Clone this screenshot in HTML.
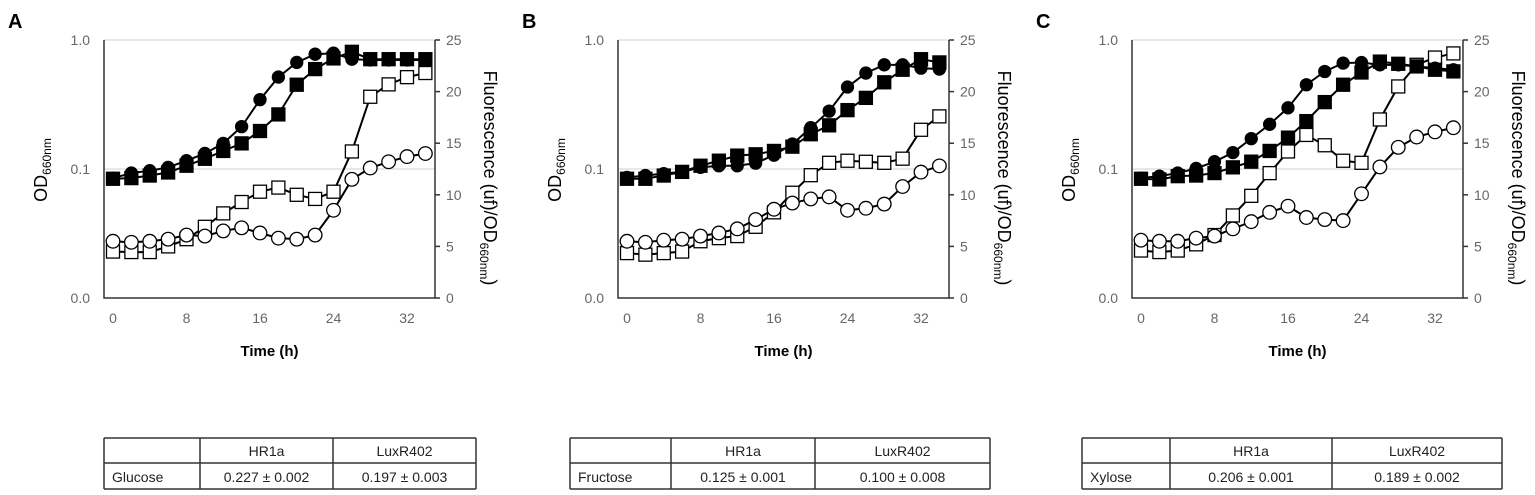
<!DOCTYPE html>
<html><head><meta charset="utf-8"><style>
body{margin:0;background:#fff;width:1535px;height:495px;overflow:hidden;font-family:"Liberation Sans",sans-serif}
svg{position:absolute;left:0;top:0}
</style></head><body>
<svg id="s" width="1535" height="495" xmlns="http://www.w3.org/2000/svg"></svg>
<script>
const times=[0,2,4,6,8,10,12,14,16,18,20,22,24,26,28,30,32,34];
const panelLabels=["A","B","C"];
const sugars=["Glucose","Fructose","Xylose"];
const hr1aRates=["0.227 ± 0.002","0.125 ± 0.001","0.206 ± 0.001"];
const luxRates=["0.197 ± 0.003","0.100 ± 0.008","0.189 ± 0.002"];
// OD (left log axis) - filled circles (HR1a), filled squares (LuxR402)
const odCircA=[0.085,0.093,0.097,0.103,0.116,0.132,0.158,0.213,0.345,0.516,0.67,0.776,0.79,0.71,0.70,0.70,0.70,0.70];
const odSqA=[0.084,0.085,0.089,0.094,0.106,0.12,0.138,0.158,0.197,0.265,0.45,0.595,0.72,0.81,0.71,0.71,0.71,0.71];
const odCircB=[0.086,0.089,0.092,0.095,0.103,0.106,0.106,0.111,0.128,0.156,0.209,0.281,0.432,0.554,0.642,0.642,0.605,0.595];
const odSqB=[0.084,0.084,0.089,0.095,0.106,0.116,0.127,0.13,0.138,0.149,0.186,0.218,0.286,0.356,0.47,0.588,0.71,0.67];
const odCircC=[0.085,0.088,0.093,0.101,0.114,0.134,0.172,0.222,0.298,0.45,0.57,0.662,0.669,0.642,0.642,0.624,0.605,0.588];
const odSqC=[0.084,0.083,0.088,0.089,0.093,0.103,0.114,0.138,0.175,0.235,0.33,0.45,0.56,0.68,0.654,0.624,0.588,0.571];
// Fluorescence (right axis) - open circles (HR1a), open squares (LuxR402)
const flCircA=[5.5,5.4,5.5,5.7,6.1,6.0,6.5,6.8,6.3,5.8,5.7,6.1,8.5,11.5,12.6,13.2,13.7,14.0];
const flSqA=[4.5,4.45,4.45,5.0,5.7,6.9,8.2,9.3,10.3,10.7,10.0,9.6,10.3,14.2,19.5,20.7,21.4,21.8];
const flCircB=[5.5,5.4,5.6,5.7,6.0,6.3,6.7,7.6,8.6,9.2,9.6,9.8,8.5,8.7,9.1,10.8,12.2,12.8];
const flSqB=[4.35,4.2,4.35,4.5,5.5,5.8,6.0,6.9,8.3,10.2,11.9,13.1,13.3,13.2,13.1,13.5,16.3,17.6];
const flCircC=[5.6,5.5,5.5,5.8,6.0,6.7,7.4,8.3,8.9,7.8,7.6,7.5,10.1,12.7,14.6,15.6,16.1,16.5];
const flSqC=[4.6,4.45,4.6,5.2,6.1,8.0,9.9,12.1,14.2,15.8,14.8,13.3,13.1,17.3,20.5,22.6,23.3,23.7];
const xTicks=[0,8,16,24,32];
const odTicks=[1,0.1,0.01];
const odTickLabels=["1.0","0.1","0.0"];
const flTicks=[0,5,10,15,20,25];
const odSets=[[odCircA,odSqA],[odCircB,odSqB],[odCircC,odSqC]];
const flSets=[[flCircA,flSqA],[flCircB,flSqB],[flCircC,flSqC]];

const S=document.getElementById('s');const NS="http://www.w3.org/2000/svg";
function mk(t,a,txt){const e=document.createElementNS(NS,t);for(const k in a)e.setAttribute(k,a[k]);if(txt!==undefined)e.textContent=txt;S.appendChild(e);return e;}
const TOP=40,BOT=298;
function yOD(v){return TOP+(-Math.log10(v))*(BOT-TOP)/2;}
function yFL(v){return BOT-v*(BOT-TOP)/25;}

for(let p=0;p<3;p++){
  const off=p*514;
  const L=104+off,R=435+off;
  const xS=t=>113+off+t*(407-113)/32;
  let e=mk('text',{x:8+off,y:28,'font-size':20,'font-weight':'bold',fill:'#000'},panelLabels[p]);
  
  
  [1,0.1].forEach(v=>{e=mk('line',{x1:L,x2:R,y1:yOD(v),y2:yOD(v),stroke:'#d0d0d0','stroke-width':1});
    });
  e=mk('path',{d:`M${L},${TOP}V${BOT}H${R}V${TOP}`,fill:'none',stroke:'#333','stroke-width':1.5});
  
  flTicks.forEach(v=>{mk('line',{x1:R,x2:R+5,y1:yFL(v),y2:yFL(v),stroke:'#333','stroke-width':1.5});
    e=mk('text',{x:R+11,y:yFL(v)+5,'font-size':14,fill:'#666'},v);
    });
  odTicks.forEach((v,i)=>{e=mk('text',{x:L-14,y:yOD(v)+5,'font-size':14,fill:'#666','text-anchor':'end'},odTickLabels[i]);
    });
  xTicks.forEach(v=>{e=mk('text',{x:xS(v),y:323,'font-size':14,fill:'#666','text-anchor':'middle'},v);
    });
  e=mk('text',{x:(L+R)/2,y:356,'font-size':15,'font-weight':'bold','text-anchor':'middle'},'Time (h)');
  
  e=mk('text',{transform:`translate(${47+off},170) rotate(-90)`,'font-size':18,'text-anchor':'middle'});
  e.innerHTML='OD<tspan font-size="12" dy="4">660nm</tspan>';
  
  e=mk('text',{transform:`translate(${484+off},178) rotate(90)`,'font-size':18,'text-anchor':'middle'});
  e.innerHTML='Fluorescence (uf)/OD<tspan font-size="12" dy="4">660nm</tspan><tspan dy="-4">)</tspan>';
  
  const series=[[flSets[p][1],yFL,'sq',false],[flSets[p][0],yFL,'c',false],[odSets[p][1],yOD,'sq',true],[odSets[p][0],yOD,'c',true]];
  series.forEach(([arr,yf,sh,fill])=>{
    e=mk('polyline',{points:arr.map((v,i)=>xS(times[i])+','+yf(v)).join(' '),fill:'none',stroke:'#000','stroke-width':2});
    
    arr.forEach((v,i)=>{const x=xS(times[i]),y=yf(v);
      if(sh==='sq')e=mk('rect',{x:x-6.5,y:y-6.5,width:13,height:13,fill:fill?'#000':'#fff',stroke:'#000','stroke-width':1.3});
      else e=mk('circle',{cx:x,cy:y,r:fill?6:6.8,fill:fill?'#000':'#fff',stroke:'#000','stroke-width':1.3});
      });
  });
}
const tabs=[[104,200,333,476],[570,671,815,990],[1082,1170,1332,1502]];
tabs.forEach((c,p)=>{
  const y0=438,ym=463,y1=489;
  let e=mk('path',{d:`M${c[0]},${y0}H${c[3]}M${c[0]},${ym}H${c[3]}M${c[0]},${y1}H${c[3]}M${c[0]},${y0}V${y1}M${c[1]},${y0}V${y1}M${c[2]},${y0}V${y1}M${c[3]},${y0}V${y1}`,stroke:'#333','stroke-width':1.5,fill:'none'});
  
  const txt=(x,y,t,a)=>{const el=mk('text',{x:x,y:y,'font-size':14,'text-anchor':a,fill:'#222'},t);
    };
  txt((c[1]+c[2])/2,456,'HR1a','middle');txt((c[2]+c[3])/2,456,'LuxR402','middle');
  txt(c[0]+8,482,sugars[p],'start');txt((c[1]+c[2])/2,482,hr1aRates[p],'middle');txt((c[2]+c[3])/2,482,luxRates[p],'middle');
});
</script>
</body></html>
